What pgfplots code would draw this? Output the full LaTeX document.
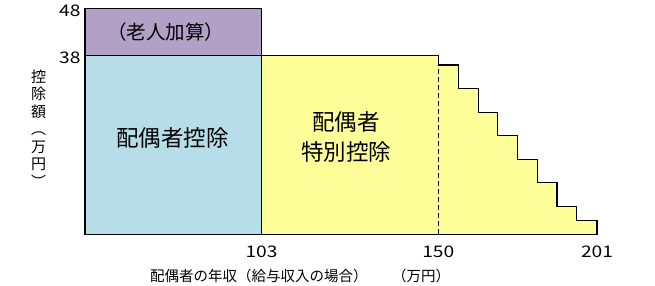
\documentclass[border=0pt]{standalone}
\usepackage{fontspec}
\setmainfont{Noto Sans CJK JP}
\newfontfamily\numfont[FakeStretch=1.2]{Noto Sans CJK JP}
\usepackage{pgfplots}
\pgfplotsset{compat=1.18}
\definecolor{cpurple}{RGB}{178,161,199}
\definecolor{cblue}{RGB}{183,222,232}
\definecolor{cyellow}{RGB}{255,255,153}
\begin{document}
\begin{tikzpicture}[x=1pt,y=1pt]
\useasboundingbox (0,0) rectangle (655,286);
\begin{axis}[
  at={(85pt,51.5pt)}, anchor=south west,
  scale only axis, width=512pt, height=225.8pt,
  xmin=0, xmax=512, ymin=0, ymax=48,
  clip=false,
  axis line style={draw=none},
  major tick length=0pt,
  xtick={176.5,353.3,512}, xticklabels={103,150,201},
  ytick={38,48}, yticklabels={38,48},
  /pgf/number format/assume math mode=true,
  tick label style={font=\numfont\fontsize{16}{16}\selectfont},
  xticklabel style={yshift=-8pt},
  yticklabel style={xshift=-1pt, yshift=-2pt},
]
\addplot[fill=cpurple, draw=black, line width=1.3pt] coordinates {(0,38) (0,48) (176.5,48) (176.5,38)} -- cycle;
\addplot[fill=cblue, draw=black, line width=1.3pt] coordinates {(0,0) (0,38) (176.5,38) (176.5,0)} -- cycle;
\addplot[fill=cyellow, draw=black, line width=1.3pt] coordinates {
 (176.5,0) (176.5,38) (353.3,38) (353.3,36) (373.3,36) (373.3,31) (393.3,31) (393.3,26)
 (412.7,26) (412.7,21) (432.7,21) (432.7,16) (452.3,16) (452.3,11) (472,11) (472,6)
 (491.7,6) (491.7,3) (512,3) (512,0)} -- cycle;
\addplot[black, line width=0.8pt, dash pattern=on 5pt off 3pt] coordinates {(353.3,0) (353.3,36)};
\end{axis}
\node[font=\fontsize{19.5}{19.5}\selectfont] at (165.5,254) {（老人加算）};
\node[font=\fontsize{22.5}{22.5}\selectfont] at (172.5,148) {配偶者控除};
\node[font=\fontsize{22.5}{30}\selectfont, align=center] at (346,149) {配偶者\\特別控除};
\node[font=\fontsize{15}{17.5}\selectfont, align=center] at (38.5,157.5) {控\\除\\額\\︵\\万\\円\\︶};
\node[font=\fontsize{14.5}{14.5}\selectfont, anchor=west, inner sep=0pt] at (150,10) {配偶者の年収（給与収入の場合）};
\node[font=\fontsize{14.5}{14.5}\selectfont] at (421,10) {（万円）};
\end{tikzpicture}
\end{document}
